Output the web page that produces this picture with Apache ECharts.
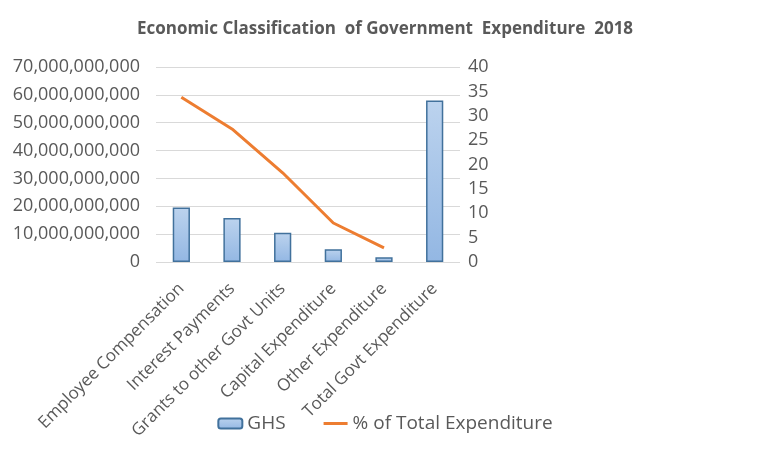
<!DOCTYPE html>
<html>
<head>
<meta charset="utf-8">
<script src="https://cdn.jsdelivr.net/npm/echarts@6/dist/echarts.min.js"></script>
<style>
  html, body { margin: 0; padding: 0; background: #fff; }
  #chart { width: 770px; height: 454px; }
</style>
</head>
<body>
<div id="chart"></div>
<script>
// data
var categories = ['Employee Compensation', 'Interest Payments', 'Grants to other Govt Units',
  'Capital Expenditure', 'Other Expenditure', 'Total Govt Expenditure']
var ghsValues = [19600000000, 15800000000, 10500000000, 4600000000, 1700000000, 58000000000]
var pctValues = [33.8, 27.3, 18.3, 8.0, 2.9, null]

var textColor = '#595959'
var font = 'Open Sans'
// thin line icon for the line series legend (zero-area subpaths keep the box 24x10)
var lineIcon = 'path://M0,0 L24,0 L24,0 Z M0,10 L24,10 L24,10 Z M0,3.5 L24,3.5 L24,6.5 L0,6.5 Z'

var chart = echarts.init(document.getElementById('chart'))
chart.setOption({
  animation: false,
  title: {
    text: 'Economic Classification  of Government  Expenditure  2018',
    left: 'center',
    top: 16,
    textStyle: { color: textColor, fontFamily: font, fontSize: 17, fontWeight: 'bold' }
  },
  grid: {
    left: 156,
    right: 310,
    top: 67,
    bottom: 192
  },
  legend: {
    left: 'center',
    bottom: 16,
    itemWidth: 24,
    itemHeight: 10,
    itemGap: 38,
    textStyle: { color: textColor, fontFamily: font, fontSize: 19 },
    data: [{ name: 'GHS' }, { name: '% of Total Expenditure', icon: lineIcon }]
  },
  xAxis: {
    type: 'category',
    data: categories,
    axisLine: { show: false },
    axisTick: { show: false },
    axisLabel: {
      rotate: 45,
      interval: 0,
      margin: 24,
      color: textColor,
      fontFamily: font,
      fontSize: 17
    }
  },
  yAxis: [{
    type: 'value',
    min: 0,
    max: 70000000000,
    interval: 10000000000,
    axisLine: { show: false },
    axisTick: { show: false },
    splitLine: { lineStyle: { color: '#d9d9d9', width: 1 } },
    axisLabel: {
      color: textColor,
      fontFamily: font,
      fontSize: 18,
      margin: 16,
      formatter: function (v) { return v.toLocaleString('en-US') }
    }
  }, {
    type: 'value',
    min: 0,
    max: 40,
    interval: 5,
    axisLine: { show: false },
    axisTick: { show: false },
    splitLine: { show: false },
    axisLabel: { color: textColor, fontFamily: font, fontSize: 18, margin: 8 }
  }],
  series: [{
    name: 'GHS',
    type: 'bar',
    barWidth: '34%',
    data: ghsValues,
    itemStyle: {
      color: new echarts.graphic.LinearGradient(0, 0, 0, 1, [
        { offset: 0, color: '#bcd3ee' },
        { offset: 1, color: '#93b7e3' }
      ]),
      borderColor: '#41719c',
      borderWidth: 1.5
    }
  }, {
    name: '% of Total Expenditure',
    type: 'line',
    yAxisIndex: 1,
    data: pctValues,
    symbol: 'none',
    lineStyle: { color: '#ed7d31', width: 3 },
    itemStyle: { color: '#ed7d31' }
  }]
})
</script>
</body>
</html>
